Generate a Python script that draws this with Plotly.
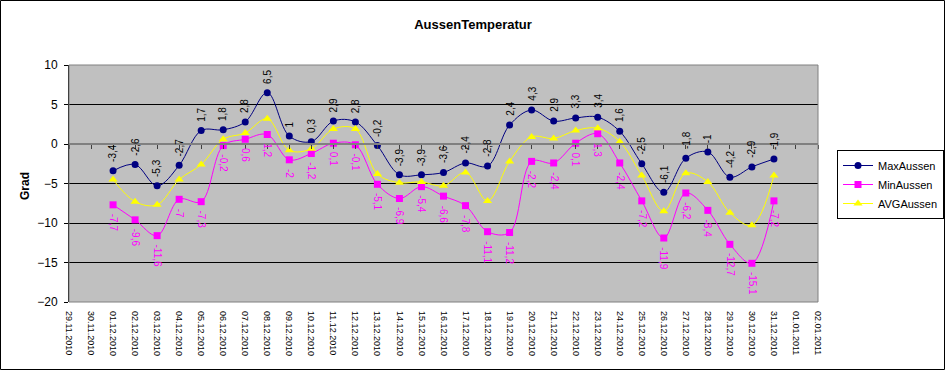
import plotly.graph_objects as go

# ---- data ----
dates = [f"2010-12-{d:02d}" for d in range(1, 32)]
max_aussen = [-3.4, -2.6, -5.3, -2.7, 1.7, 1.8, 2.8, 6.5, 1, 0.3, 2.9, 2.8, -0.2, -3.9, -3.9, -3.6,
              -2.4, -2.8, 2.4, 4.3, 2.9, 3.3, 3.4, 1.6, -2.5, -6.1, -1.8, -1, -4.2, -2.9, -1.9]
min_aussen = [-7.7, -9.6, -11.6, -7, -7.3, -0.2, 0.6, 1.2, -2, -1.2, 0.1, -0.1, -5.1, -6.9, -5.4, -6.6,
              -7.8, -11.1, -11.2, -2.2, -2.4, 0.1, 1.3, -2.4, -7.2, -11.9, -6.2, -8.4, -12.7, -15.1, -7.2]
avg_aussen = [-4.5, -7.3, -7.7, -4.5, -2.6, 0.6, 1.4, 3.2, -0.8, -0.6, 1.9, 1.9, -3.8, -4.9, -4.8, -5.3,
              -3.6, -7.2, -2.2, 0.9, 0.7, 1.7, 2.0, 0.3, -4.0, -8.5, -3.7, -4.8, -8.7, -10.3, -4.0]
x_range = ["2010-11-29", "2011-01-02"]
y_range = [-20, 10]

FONT = "Arial, Liberation Sans, sans-serif"
W, H = 946, 371
L, R, T, B = 69, 128, 65, 69
PW, PH = W - L - R, H - T - B


def fmt(v):
    s = f"{v:g}"
    return s.replace(".", ",")


fig = go.Figure()
fig.add_trace(go.Scatter(x=dates, y=max_aussen, name="MaxAussen", mode="lines+markers",
                         line=dict(color="#000080", width=1, shape="spline"),
                         marker=dict(symbol="circle", size=7, color="#000080")))
fig.add_trace(go.Scatter(x=dates, y=min_aussen, name="MinAussen", mode="lines+markers",
                         line=dict(color="#FF00FF", width=1, shape="spline"),
                         marker=dict(symbol="square", size=7, color="#FF00FF")))
fig.add_trace(go.Scatter(x=dates, y=avg_aussen, name="AVGAussen", mode="lines+markers",
                         line=dict(color="#FFFF00", width=1, shape="spline"),
                         marker=dict(symbol="triangle-up", size=8, color="#FFFF00")))
# invisible helper trace for the zero-line axis with date ticks
fig.add_trace(go.Scatter(x=dates, y=[0] * len(dates), xaxis="x2", mode="lines",
                         line=dict(width=0), opacity=0, showlegend=False, hoverinfo="skip"))

annotations = []
for d, v in zip(dates, max_aussen):
    annotations.append(dict(x=d, y=v, text=fmt(v), textangle=-90, showarrow=False,
                            yanchor="bottom", xanchor="center", yshift=7,
                            font=dict(family=FONT, size=10, color="black")))
for d, v in zip(dates, min_aussen):
    annotations.append(dict(x=d, y=v, text=fmt(v), textangle=90, showarrow=False,
                            yanchor="top", xanchor="center", yshift=-7,
                            font=dict(family=FONT, size=10, color="#FF00FF")))
annotations.append(dict(xref="paper", yref="paper", x=(25 - L) / PW, y=(T + PH - 186) / PH,
                        text="<b>Grad</b>", textangle=-90, showarrow=False,
                        xanchor="center", yanchor="middle",
                        font=dict(family=FONT, size=12, color="black")))

shapes = [
    # grey plot-area border
    dict(type="rect", xref="paper", yref="paper", x0=0, x1=1, y0=0, y1=1,
         line=dict(color="#808080", width=1), layer="above"),
    # outer chart frame
    dict(type="rect", xref="paper", yref="paper",
         x0=(0.5 - L) / PW, x1=(W - 1.5 - L) / PW,
         y0=(T + PH - (H - 1.5)) / PH, y1=(T + PH - 0.5) / PH,
         line=dict(color="black", width=1)),
]

fig.update_layout(
    width=W, height=H,
    margin=dict(l=L, r=R, t=T, b=B),
    paper_bgcolor="white", plot_bgcolor="#C0C0C0",
    font=dict(family=FONT, size=11, color="black"),
    title=dict(text="<b>AussenTemperatur</b>", x=0.5, xref="container", xanchor="center",
               y=1 - 24 / H, yref="container", yanchor="middle",
               font=dict(family=FONT, size=13, color="black")),
    xaxis=dict(type="date", range=x_range, dtick=86400000, tick0=x_range[0],
               tickformat="%d.%m.%Y", tickangle=90, tickfont=dict(family=FONT, size=9),
               showgrid=False, zeroline=False, showline=False, ticks="",
               ticklabelstandoff=8),
    xaxis2=dict(type="date", range=x_range, matches="x", anchor="free", overlaying="x",
                position=(0 - y_range[0]) / (y_range[1] - y_range[0]),
                dtick=86400000, tick0=x_range[0], showticklabels=False,
                ticks="outside", ticklen=4, tickcolor="#404040", tickwidth=1,
                showline=True, linecolor="#808080", linewidth=2, showgrid=False, zeroline=False),
    yaxis=dict(range=y_range, dtick=5, showgrid=True, gridcolor="black", gridwidth=1,
               zeroline=False, showline=True, linecolor="black", linewidth=1,
               ticks="outside", ticklen=4, tickcolor="black",
               tickfont=dict(family=FONT, size=12), ticklabelstandoff=4),
    legend=dict(x=837 / W, y=1 - 150 / H, xref="container", yref="container",
                xanchor="left", yanchor="top", bgcolor="white", bordercolor="black",
                borderwidth=1, font=dict(family=FONT, size=11), tracegroupgap=0),
    annotations=annotations,
    shapes=shapes,
    showlegend=True,
)

fig.write_html("out.html", config={"displayModeBar": False},
               post_script="document.body.style.margin='0';document.body.style.padding='0';")
